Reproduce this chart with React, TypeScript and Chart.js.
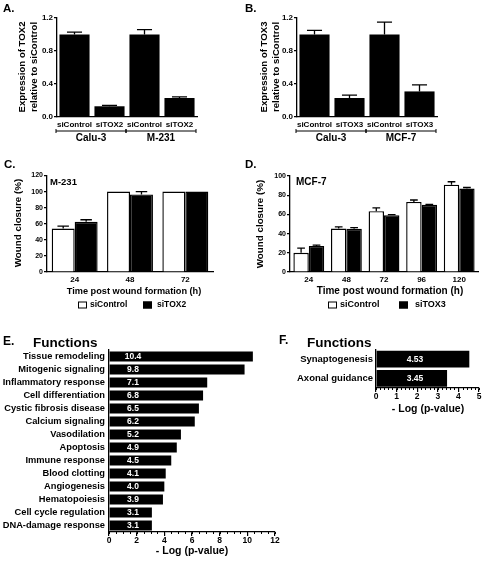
import React, { useEffect, useRef } from "react";
import { Chart, registerables } from "chart.js";

Chart.register(...registerables);

const FONT = "'Liberation Sans', Arial, Helvetica, sans-serif";
const f = (size: number, bold = true) => `${bold ? "bold " : ""}${size}px ${FONT}`;
const tf = (size: number) => ({ family: FONT, size, weight: "bold" as const });

// ---------- Panel A ----------
const aCategories = ["siControl", "siTOX2", "siControl", "siTOX2"];
const aValues = [1.0, 0.13, 1.0, 0.23];
const aErrors = [0.03, 0.01, 0.06, 0.015];
const aGroups = ["Calu-3", "M-231"];

// ---------- Panel B ----------
const bCategories = ["siControl", "siTOX3", "siControl", "siTOX3"];
const bValues = [1.0, 0.23, 1.0, 0.31];
const bErrors = [0.05, 0.035, 0.15, 0.08];
const bGroups = ["Calu-3", "MCF-7"];

// ---------- Panel C ----------
const cTimes = ["24", "48", "72"];
const cControl = [54, 100, 100];
const cControlErr = [3, 0, 0];
const cTox2 = [62.5, 96.5, 100];
const cTox2Err = [2.5, 3.5, 0];

// ---------- Panel D ----------
const dTimes = ["24", "48", "72", "96", "120"];
const dControl = [20, 45.3, 63.4, 73, 91];
const dControlErr = [4.8, 1.7, 3.5, 2, 3];
const dTox3 = [27.2, 45, 59, 70, 87];
const dTox3Err = [0.8, 1.3, 0.8, 0.5, 1];

// ---------- Panel E ----------
const eFunctions = [
  "Tissue remodeling",
  "Mitogenic signaling",
  "Inflammatory response",
  "Cell differentiation",
  "Cystic fibrosis disease",
  "Calcium signaling",
  "Vasodilation",
  "Apoptosis",
  "Immune response",
  "Blood clotting",
  "Angiogenesis",
  "Hematopoiesis",
  "Cell cycle regulation",
  "DNA-damage response",
];
const eValues = [10.4, 9.8, 7.1, 6.8, 6.5, 6.2, 5.2, 4.9, 4.5, 4.1, 4.0, 3.9, 3.1, 3.1];

// ---------- Panel F ----------
const fFunctions = ["Synaptogenesis", "Axonal guidance"];
const fValues = [4.53, 3.45];

type TextItem = { text: string; x: number; y: number; font: string; align?: CanvasTextAlign; rotate?: boolean };
type Extras = {
  texts?: TextItem[];
  groups?: { label: string; from: number; to: number }[];
  groupLineY?: number;
  groupTextY?: number;
  legend?: { boxX: number; textX: number }[];
  legendY?: number;
  legendFont?: string;
  valueLabels?: { dx: number; font: string; decimals: number };
  minor?: { step: number; len: number };
};

function makeExtras(cfg: Extras) {
  return {
    id: "extras",
    afterDatasetsDraw(chart: any) {
      const ctx = chart.ctx as CanvasRenderingContext2D;
      chart.data.datasets.forEach((ds: any, di: number) => {
        if (!ds.errors) return;
        const meta = chart.getDatasetMeta(di);
        const scale = chart.scales[meta.vAxisID];
        meta.data.forEach((el: any, i: number) => {
          const e = ds.errors[i];
          if (!e) return;
          const top = scale.getPixelForValue(ds.data[i] + e);
          const hw = el.width * 0.25;
          ctx.save();
          ctx.strokeStyle = "#000";
          ctx.lineWidth = 1.3;
          ctx.beginPath();
          ctx.moveTo(el.x, el.y);
          ctx.lineTo(el.x, top);
          ctx.moveTo(el.x - hw, top);
          ctx.lineTo(el.x + hw, top);
          ctx.stroke();
          ctx.restore();
        });
      });
      if (cfg.valueLabels) {
        const vl = cfg.valueLabels;
        const meta = chart.getDatasetMeta(0);
        const ds = chart.data.datasets[0];
        ctx.save();
        ctx.fillStyle = "#fff";
        ctx.font = vl.font;
        ctx.textAlign = "center";
        ctx.textBaseline = "middle";
        meta.data.forEach((el: any, i: number) => {
          ctx.fillText(Number(ds.data[i]).toFixed(vl.decimals), chart.chartArea.left + vl.dx, el.y + 0.5);
        });
        ctx.restore();
      }
    },
    afterDraw(chart: any) {
      const ctx = chart.ctx as CanvasRenderingContext2D;
      ctx.save();
      ctx.fillStyle = "#000";
      ctx.strokeStyle = "#000";
      (cfg.texts || []).forEach((t) => {
        ctx.font = t.font;
        ctx.textAlign = t.align || "left";
        ctx.textBaseline = "middle";
        if (t.rotate) {
          ctx.save();
          ctx.translate(t.x, t.y);
          ctx.rotate(-Math.PI / 2);
          ctx.textAlign = "center";
          ctx.fillText(t.text, 0, 0);
          ctx.restore();
        } else {
          ctx.fillText(t.text, t.x, t.y);
        }
      });
      if (cfg.groups) {
        const xs = chart.scales.x;
        const period = xs.width / chart.data.labels.length;
        cfg.groups.forEach((g) => {
          const l = xs.getPixelForValue(g.from) - period / 2 - 1;
          const r = xs.getPixelForValue(g.to) + period / 2 - 1;
          const y = cfg.groupLineY!;
          ctx.lineWidth = 1;
          ctx.beginPath();
          ctx.moveTo(l, y);
          ctx.lineTo(r, y);
          ctx.moveTo(l, y - 2);
          ctx.lineTo(l, y + 2);
          ctx.moveTo(r, y - 2);
          ctx.lineTo(r, y + 2);
          ctx.stroke();
          ctx.font = f(10);
          ctx.textAlign = "center";
          ctx.textBaseline = "middle";
          ctx.fillText(g.label, (l + r) / 2, cfg.groupTextY!);
        });
      }
      if (cfg.legend) {
        cfg.legend.forEach((it, i) => {
          const ds = chart.data.datasets[i];
          const y = cfg.legendY!;
          ctx.fillStyle = ds.backgroundColor;
          ctx.fillRect(it.boxX, y - 3.5, 9, 7);
          ctx.lineWidth = 1;
          ctx.strokeRect(it.boxX + 0.5, y - 3, 8, 6);
          ctx.fillStyle = "#000";
          ctx.font = cfg.legendFont!;
          ctx.textAlign = "left";
          ctx.textBaseline = "middle";
          ctx.fillText(ds.label, it.textX, y);
        });
      }
      if (cfg.minor) {
        const xs = chart.scales.x;
        const bottom = chart.chartArea.bottom;
        ctx.lineWidth = 1;
        ctx.beginPath();
        for (let v = xs.min; v <= xs.max + 1e-9; v += cfg.minor.step) {
          const px = Math.round(xs.getPixelForValue(v)) + 0.5;
          ctx.moveTo(px, bottom);
          ctx.lineTo(px, bottom + cfg.minor.len);
        }
        ctx.stroke();
      }
      ctx.restore();
    },
  };
}

type Area = { l: number; r: number; t: number; b: number };

const border = { display: true, color: "#000", width: 1.3 };

function baseOptions(w: number, h: number, area: Area) {
  return {
    animation: false,
    responsive: false,
    maintainAspectRatio: false,
    devicePixelRatio: 1,
    layout: { padding: { left: 0, top: area.t, right: w - area.r, bottom: 0 } },
    plugins: { legend: { display: false }, tooltip: { enabled: false }, title: { display: false } },
  };
}

function categoryX(h: number, area: Area, size: number) {
  return {
    grid: { display: false, drawTicks: false },
    border,
    ticks: { font: tf(size), color: "#000", padding: 3, maxRotation: 0, autoSkip: false },
    afterFit: (s: any) => {
      s.height = h - area.b;
    },
  };
}

function linearY(area: Area, min: number, max: number, step: number, size: number, dec: number) {
  return {
    min,
    max,
    ticks: {
      stepSize: step,
      font: tf(size),
      color: "#000",
      padding: 1,
      callback: (v: any) => Number(v).toFixed(dec),
    },
    grid: { drawOnChartArea: false, drawTicks: true, tickLength: 3, color: "#000", lineWidth: 1.2 },
    border,
    afterFit: (s: any) => {
      s.width = area.l;
    },
  };
}

function expressionConfig(w: number, h: number, area: Area, labels: string[], values: number[], errors: number[], groups: string[], extraTexts: TextItem[]) {
  return {
    type: "bar",
    data: {
      labels,
      datasets: [
        {
          data: values,
          errors,
          backgroundColor: "#000",
          borderWidth: 0,
          barPercentage: 0.86,
          categoryPercentage: 1,
        },
      ],
    },
    options: {
      ...baseOptions(w, h, area),
      scales: {
        x: categoryX(h, area, 8),
        y: linearY(area, 0, 1.2, 0.4, 8, 1),
      },
    },
    plugins: [
      makeExtras({
        texts: extraTexts,
        groups: [
          { label: groups[0], from: 0, to: 1 },
          { label: groups[1], from: 2, to: 3 },
        ],
        groupLineY: 131,
        groupTextY: 138.5,
      }),
    ],
  };
}

function woundConfig(
  w: number,
  h: number,
  area: Area,
  labels: string[],
  ctrl: number[],
  ctrlErr: number[],
  kd: number[],
  kdErr: number[],
  kdLabel: string,
  yMax: number,
  catPct: number,
  extras: Extras
) {
  return {
    type: "bar",
    data: {
      labels,
      datasets: [
        {
          label: "siControl",
          data: ctrl,
          errors: ctrlErr,
          backgroundColor: "#fff",
          borderColor: "#000",
          borderWidth: 1.4,
          barPercentage: 1,
          categoryPercentage: catPct,
        },
        {
          label: kdLabel,
          data: kd,
          errors: kdErr,
          backgroundColor: "#000",
          borderColor: "#000",
          borderWidth: 1.4,
          barPercentage: 1,
          categoryPercentage: catPct,
        },
      ],
    },
    options: {
      ...baseOptions(w, h, area),
      scales: {
        x: categoryX(h, area, 8),
        y: linearY(area, 0, yMax, 20, 7, 0),
      },
    },
    plugins: [makeExtras(extras)],
  };
}

function functionsConfig(
  w: number,
  h: number,
  area: Area,
  labels: string[],
  values: number[],
  xMax: number,
  xStep: number,
  barPct: number,
  labelFont: number,
  labelPad: number,
  extras: Extras
) {
  return {
    type: "bar",
    data: {
      labels,
      datasets: [
        {
          data: values,
          backgroundColor: "#000",
          borderWidth: 0,
          barPercentage: barPct,
          categoryPercentage: 1,
        },
      ],
    },
    options: {
      ...baseOptions(w, h, area),
      indexAxis: "y",
      scales: {
        y: {
          grid: { display: false, drawTicks: false },
          border,
          ticks: { font: tf(labelFont), color: "#000", padding: labelPad, autoSkip: false },
          afterFit: (s: any) => {
            s.width = area.l;
          },
        },
        x: {
          min: 0,
          max: xMax,
          ticks: { stepSize: xStep, font: tf(8.5), color: "#000", padding: 0 },
          grid: { drawOnChartArea: false, drawTicks: true, tickLength: 4, color: "#000", lineWidth: 1.2 },
          border,
          afterFit: (s: any) => {
            s.height = h - area.b;
          },
        },
      },
    },
    plugins: [makeExtras(extras)],
  };
}

function ChartBox(props: { left: number; top: number; width: number; height: number; make: () => any }) {
  const ref = useRef<HTMLCanvasElement>(null);
  useEffect(() => {
    const chart = new Chart(ref.current as HTMLCanvasElement, props.make());
    return () => chart.destroy();
  }, []);
  return (
    <canvas
      ref={ref}
      width={props.width}
      height={props.height}
      style={{ position: "absolute", left: props.left, top: props.top, width: props.width, height: props.height }}
    />
  );
}

export default function App() {
  const areaA: Area = { l: 57, r: 197, t: 18, b: 117 };
  const areaC: Area = { l: 47, r: 213, t: 25.5, b: 122 };
  const areaD: Area = { l: 48, r: 236, t: 26, b: 122 };
  const areaE: Area = { l: 109, r: 275, t: 30, b: 212 };
  const areaF: Area = { l: 100, r: 203, t: 29.5, b: 68 };
  return (
    <div style={{ position: "absolute", left: 0, top: 0, width: 484, height: 561, background: "#fff", overflow: "hidden" }}>
      <ChartBox
        left={0}
        top={0}
        width={240}
        height={150}
        make={() =>
          expressionConfig(240, 150, areaA, aCategories, aValues, aErrors, aGroups, [
            { text: "A.", x: 3, y: 8.5, font: f(11.5) },
            { text: "Expression of TOX2", x: 22, y: 67, font: f(9.6), rotate: true },
            { text: "relative to siControl", x: 34, y: 67, font: f(9.6), rotate: true },
          ])
        }
      />
      <ChartBox
        left={240}
        top={0}
        width={244}
        height={150}
        make={() =>
          expressionConfig(244, 150, areaA, bCategories, bValues, bErrors, bGroups, [
            { text: "B.", x: 5, y: 8.5, font: f(11.5) },
            { text: "Expression of TOX3", x: 24, y: 67, font: f(9.6), rotate: true },
            { text: "relative to siControl", x: 36, y: 67, font: f(9.6), rotate: true },
          ])
        }
      />
      <ChartBox
        left={0}
        top={150}
        width={242}
        height={170}
        make={() =>
          woundConfig(242, 170, areaC, cTimes, cControl, cControlErr, cTox2, cTox2Err, "siTOX2", 120, 0.83, {
            texts: [
              { text: "C.", x: 4, y: 15, font: f(11.5) },
              { text: "M-231", x: 50, y: 32.5, font: f(9.5) },
              { text: "Wound closure (%)", x: 18, y: 73, font: f(9.8), rotate: true },
              { text: "Time post wound formation (h)", x: 134, y: 141, font: f(9.2), align: "center" },
            ],
            legend: [
              { boxX: 78, textX: 90 },
              { boxX: 143, textX: 157 },
            ],
            legendY: 155,
            legendFont: f(8.5),
          })
        }
      />
      <ChartBox
        left={242}
        top={150}
        width={242}
        height={170}
        make={() =>
          woundConfig(242, 170, areaD, dTimes, dControl, dControlErr, dTox3, dTox3Err, "siTOX3", 100, 0.82, {
            texts: [
              { text: "D.", x: 3, y: 15, font: f(11.5) },
              { text: "MCF-7", x: 54, y: 32, font: f(10) },
              { text: "Wound closure (%)", x: 18, y: 74, font: f(9.8), rotate: true },
              { text: "Time post wound formation (h)", x: 148, y: 141, font: f(10), align: "center" },
            ],
            legend: [
              { boxX: 86, textX: 98 },
              { boxX: 157, textX: 173 },
            ],
            legendY: 155,
            legendFont: f(9),
          })
        }
      />
      <ChartBox
        left={0}
        top={320}
        width={300}
        height={241}
        make={() =>
          functionsConfig(300, 241, areaE, eFunctions, eValues, 12, 2, 0.77, 9.3, 4, {
            texts: [
              { text: "E.", x: 3, y: 22, font: f(12) },
              { text: "Functions", x: 33, y: 23, font: f(13.5) },
              { text: "- Log (p-value)", x: 192, y: 231, font: f(10.5), align: "center" },
            ],
            valueLabels: { dx: 24, font: f(8.5), decimals: 1 },
            minor: { step: 0.5, len: 2 },
          })
        }
      />
      <ChartBox
        left={276}
        top={320}
        width={208}
        height={100}
        make={() =>
          functionsConfig(208, 100, areaF, fFunctions, fValues, 5, 1, 0.87, 9.5, 3, {
            texts: [
              { text: "F.", x: 3, y: 21, font: f(12) },
              { text: "Functions", x: 31, y: 23, font: f(13.5) },
              { text: "- Log (p-value)", x: 152, y: 89.5, font: f(10.5), align: "center" },
            ],
            valueLabels: { dx: 39, font: f(8.5), decimals: 2 },
            minor: { step: 0.2, len: 2 },
          })
        }
      />
    </div>
  );
}
